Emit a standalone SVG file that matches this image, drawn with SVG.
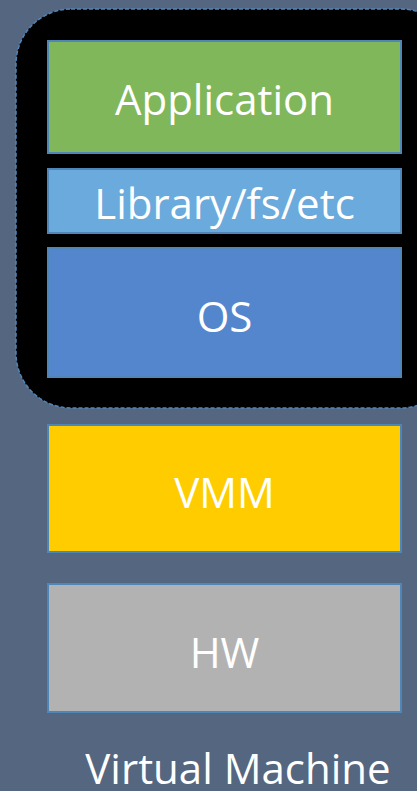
<svg xmlns="http://www.w3.org/2000/svg" width="417" height="791" viewBox="0 0 417 791">
<style>
.box{stroke:#4f86b8;stroke-width:2}
.lbl{fill:#ffffff;font-family:"Open Sans","Liberation Sans",sans-serif;font-size:42px;text-anchor:middle}
</style>
<rect x="0" y="0" width="417" height="791" fill="#546680"/>
<g id="vm-container">
<rect x="16" y="9" width="440" height="399" rx="55" ry="55" fill="#000000" stroke="#4f86b8" stroke-width="1.5" stroke-dasharray="4 2"/>
</g>
<g id="application">
<rect class="box" x="48" y="41" width="353" height="112" fill="#80b75a"/>
<text class="lbl" x="224.5" y="115">Application</text>
</g>
<g id="library">
<rect class="box" x="48" y="169" width="353" height="64" fill="#6aaadc"/>
<text class="lbl" x="224.5" y="219" font-size="38">Library/fs/etc</text>
</g>
<g id="os">
<rect class="box" x="48" y="248" width="353" height="129" fill="#5486ce"/>
<text class="lbl" x="224.5" y="332">OS</text>
</g>
<g id="vmm">
<rect class="box" x="48" y="425" width="353" height="127" fill="#ffcc00"/>
<text class="lbl" x="224.5" y="508">VMM</text>
</g>
<g id="hw">
<rect class="box" x="48" y="584" width="353" height="128" fill="#b2b2b2"/>
<text class="lbl" x="224.5" y="668">HW</text>
</g>
<g id="connectors"></g>
<text class="lbl" x="238" y="784" font-size="43">Virtual Machine</text>
</svg>
